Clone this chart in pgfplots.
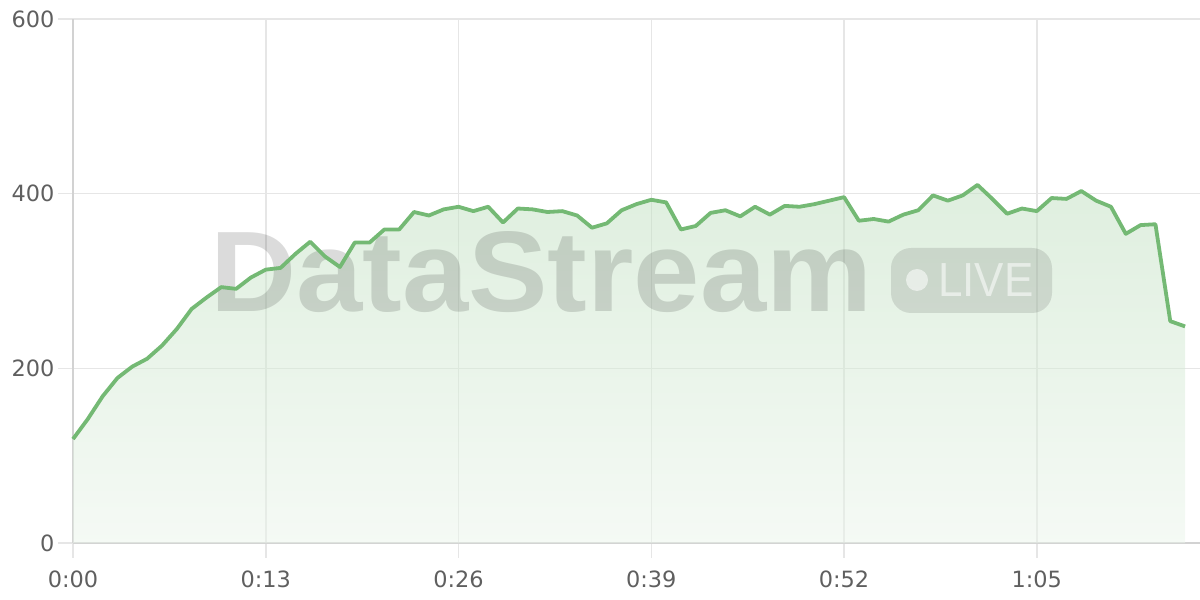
\documentclass[border=0pt]{standalone}
\usepackage{fontspec}
\setmainfont{DejaVu Sans}
\newfontfamily\wmfont{Liberation Sans}
\usepackage{pgfplots}
\usepackage{pgfplotstable}
\pgfplotsset{compat=1.18}
\definecolor{linegreen}{RGB}{116,185,116}
\definecolor{filltop}{RGB}{191,223,191}
\definecolor{fillbot}{RGB}{235,245,235}
\definecolor{axisgray}{RGB}{210,210,210}
\definecolor{gridgray}{RGB}{230,230,230}
\definecolor{labelgray}{RGB}{95,95,95}
\pgfplotstableread{
t v
0 119
1 142
2 168
3 189
4 202
5 211
6 226
7 245
8 268
9 281
10 293
11 291
12 304
13 313
14 315
15 331
16 345
17 328
18 316
19 344
20 344
21 359
22 359
23 379
24 375
25 382
26 385
27 380
28 385
29 367
30 383
31 382
32 379
33 380
34 375
35 361
36 366
37 381
38 388
39 393
40 390
41 359
42 363
43 378
44 381
45 374
46 385
47 376
48 386
49 385
50 388
51 392
52 396
53 369
54 371
55 368
56 376
57 381
58 398
59 392
60 398
61 410
62 394
63 377
64 383
65 380
66 395
67 394
68 403
69 392
70 385
71 354
72 364
73 365
74 254
75 248
}\datatable
\pgfplotsset{base/.style={
  scale only axis, width=1127bp, height=524bp,
  xmin=0, xmax=76, ymin=0, ymax=600,
  at={(0,0)}, anchor=south west,
}}
\begin{document}
\begin{tikzpicture}
\path[use as bounding box] (-73bp,-57bp) rectangle (1127bp,543bp);
\begin{axis}[
  base,
  axis lines=left,
  axis line style={-, draw=axisgray, line width=1.5bp},
  xtick={0,13,26,39,52,65},
  xticklabels={0:00,0:13,0:26,0:39,0:52,1:05},
  ytick={0,200,400,600},
  grid=major,
  major grid style={draw=gridgray, line width=1.5bp},
  tick align=outside,
  major tick length=15bp,
  tick style={draw=gridgray, line width=1.5bp},
  ticklabel style={font=\fontsize{22.5}{27}\selectfont, text=labelgray},
  xticklabel style={yshift=-9bp},
  /pgf/number format/assume math mode=true,
  clip=false,
]
\addplot[draw=none, fill opacity=0.5, top color=filltop, bottom color=fillbot] table[x=t,y=v] {\datatable} \closedcycle;
\end{axis}
\node[anchor=base west, inner sep=0, text=black, text opacity=0.14, xscale=1.04] at (137bp,231bp) {\wmfont\bfseries\fontsize{115}{115}\selectfont DataStream};
\fill[black, fill opacity=0.11, rounded corners=20bp] (818bp,230bp) rectangle (979bp,295bp);
\fill[white, fill opacity=0.55] (844bp,263bp) circle (11bp);
\node[anchor=base west, inner sep=0, text=white, text opacity=0.55, xscale=0.92] at (865bp,246bp) {\wmfont\fontsize{48}{48}\selectfont LIVE};
\begin{axis}[base, hide axis, clip=false]
\addplot[linegreen, line width=3.8bp, mark=none, line join=round] table[x=t,y=v] {\datatable};
\end{axis}
\end{tikzpicture}
\end{document}
